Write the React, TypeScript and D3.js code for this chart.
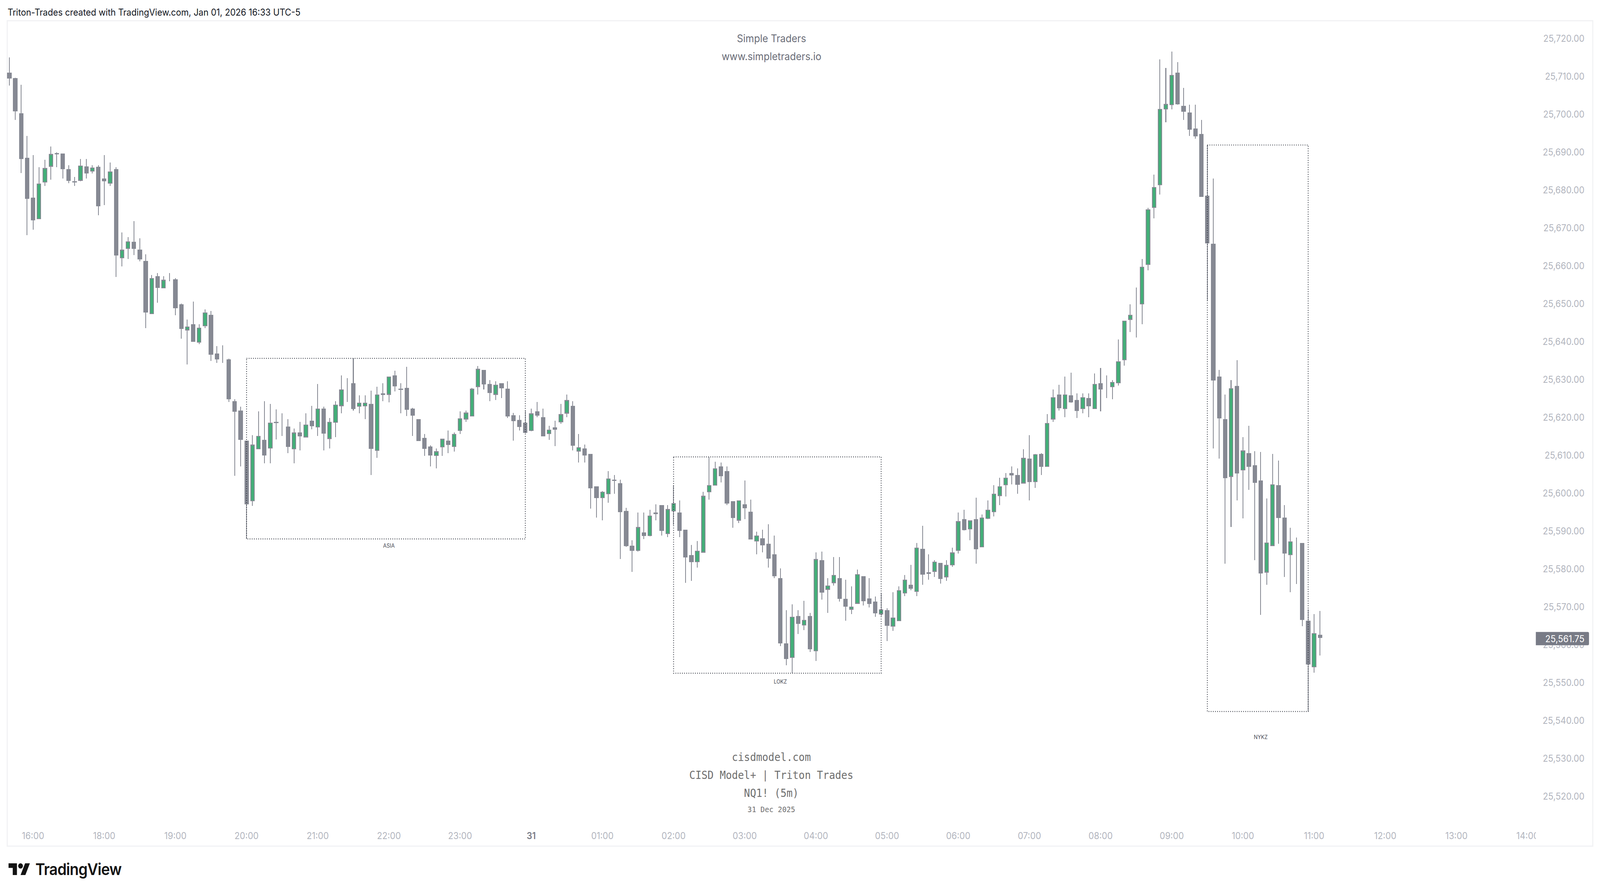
import React from 'react'
import * as d3 from 'd3'

// NQ1! 5m bars, first bar 15:40 on 30 Dec, last bar 11:05 on 31 Dec
const opens = [
  25710.9, 25709.45, 25700.2, 25688.4, 25677.85, 25672.2, 25681.9, 25686.1, 25689.65, 25689.5,
  25685.4, 25682.2, 25682.4, 25686.1, 25684.85, 25686, 25682.95, 25681.65, 25685.45, 25661.9,
  25664.4, 25666.25, 25664.2, 25661.15, 25647.15, 25657.15, 25653.95, 25656.75, 25656.4, 25649.75,
  25642.9, 25644.5, 25639.7, 25643.95, 25647, 25636.8, 25635.55, 25635.2, 25624.2, 25621.7,
  25613.8, 25597.8, 25611.5, 25614, 25611.7, 25618.7, 25617.8, 25617.45, 25611.5, 25615.95,
  25614.65, 25619.05, 25617.25, 25622.2, 25614.25, 25618.5, 25622.9, 25628.85, 25628.95, 25622.75,
  25622.85, 25623.5, 25611.1, 25626.25, 25625.9, 25631, 25627.5, 25627.7, 25622.25, 25619.45,
  25614.5, 25612.2, 25609.75, 25612, 25613.8, 25612.15, 25616.4, 25619.4, 25620.2, 25627.95,
  25632.45, 25628.75, 25625.9, 25628.95, 25627.5, 25620.45, 25619.25, 25618.55, 25616.4, 25621.5,
  25619.95, 25615.5, 25617.25, 25618.65, 25620.95, 25622.95, 25610.95, 25611.7, 25610.25, 25601.7,
  25598.65, 25599.7, 25603.5, 25602.55, 25595.25, 25586, 25584.75, 25589.55, 25588.65, 25594.8,
  25596.75, 25589.15, 25595.15, 25594.8, 25590.3, 25583.55, 25581.75, 25584.25, 25600.2, 25601.95,
  25606.95, 25605.75, 25597.8, 25592.7, 25597, 25595.05, 25587.2, 25588, 25586.6, 25583.8,
  25577.45, 25560.25, 25556.5, 25567.5, 25565, 25567.5, 25558.2, 25582.25, 25574.45, 25576.2,
  25577.45, 25572, 25569.2, 25570.75, 25578, 25572.15, 25571.3, 25567.95, 25569.05, 25564.7,
  25566.15, 25573.45, 25575.75, 25573.9, 25585.2, 25579.05, 25579.2, 25581.5, 25577.75, 25580.9,
  25584.75, 25593, 25590.4, 25593, 25585.65, 25593.2, 25594.95, 25599.2, 25602, 25605.2,
  25604.7, 25602.5, 25609, 25602.85, 25610.25, 25606.9, 25619.4, 25625.95, 25622.15, 25625.7,
  25624.5, 25622.15, 25625, 25622.15, 25628.9, 25628.1, 25627.9, 25628.95, 25635, 25645.7,
  25648.85, 25649.75, 25660.2, 25675.2, 25681.2, 25701.2, 25702.35, 25710.9, 25702.15, 25700.35,
  25696.15, 25694.7, 25678.4, 25665.75, 25630.7, 25619.45, 25604.25, 25628.2, 25605.95, 25610.45,
  25607.3, 25603.3, 25579, 25586, 25602, 25593.5, 25583.55, 25587.4, 25586.8, 25566.2, 25554, 25562.55
]

const closes = [
  25709.35, 25700.65, 25688.15, 25677.6, 25671.9, 25681.65, 25685.7, 25689.4, 25689.4, 25685.4,
  25682.4, 25681.9, 25686.4, 25684.35, 25685.85, 25675.65, 25682.2, 25684.85, 25662.7, 25664.15,
  25666.4, 25664.4, 25661.6, 25647.6, 25656.65, 25654.15, 25656.2, 25656.55, 25648.7, 25643.25,
  25643.9, 25639.9, 25643.6, 25647.6, 25636.45, 25635.2, 25635.35, 25624.7, 25621.45, 25613.95,
  25596.95, 25612.7, 25615, 25609.9, 25618.5, 25618.45, 25617.6, 25612.15, 25615.9, 25614.95,
  25618, 25617.6, 25622.2, 25615.65, 25618.7, 25623.25, 25627.25, 25628.65, 25622.1, 25623.75,
  25623.75, 25611.65, 25625.95, 25625.9, 25630.7, 25628.15, 25627.2, 25621.95, 25620.4, 25613.7,
  25611.65, 25609.9, 25610.95, 25614.25, 25612.7, 25615.5, 25619.7, 25621.15, 25627.45, 25632.7,
  25628.65, 25626.4, 25628.5, 25627.6, 25620.2, 25618.95, 25617.45, 25615.85, 25620.95, 25620.4,
  25614.95, 25616.7, 25616.7, 25620.75, 25624.45, 25612.45, 25612, 25609.9, 25601.25, 25598.65,
  25600.25, 25603.75, 25603.15, 25594.95, 25586, 25584.75, 25590.95, 25588.65, 25594, 25594.4,
  25590, 25595.7, 25597.25, 25590, 25583, 25581.75, 25584.75, 25599.2, 25602, 25606.45,
  25604.45, 25597.2, 25593.4, 25598, 25595.95, 25587.75, 25588.7, 25586.2, 25582.7, 25578,
  25560.25, 25556.2, 25567.25, 25565.45, 25566.5, 25558.7, 25582.5, 25573.7, 25575.5, 25578.3,
  25572, 25570, 25570, 25578.5, 25571.4, 25570.75, 25568.2, 25569.2, 25564.9, 25567.1,
  25574.3, 25577.1, 25574.7, 25585.55, 25578.4, 25578.65, 25581.8, 25577.25, 25580.95, 25584.25,
  25592.5, 25590.2, 25592.7, 25585.15, 25593.45, 25595.5, 25599.75, 25601.7, 25604, 25604.6,
  25602.1, 25609.2, 25602.85, 25610.2, 25606.9, 25618.45, 25625.2, 25622.35, 25625.95, 25623.9,
  25621.65, 25625.2, 25622.85, 25628.75, 25627.25, 25627.9, 25629.25, 25634.75, 25645.45, 25647,
  25648.7, 25659.7, 25674.85, 25680.65, 25701.35, 25702.6, 25710.3, 25702.55, 25700.6, 25695.85,
  25694.15, 25678.15, 25665.9, 25629.7, 25619.7, 25603.9, 25627.6, 25605.1, 25611.15, 25606.85,
  25602.65, 25578.7, 25586.9, 25602.2, 25593.35, 25584, 25587.2, 25587.2, 25566.5, 25554.75, 25562.95, 25561.75
]

const highs = [
  25714.9, 25709.6, 25707.65, 25694.2, 25689.1, 25686, 25687.9, 25691.4, 25689.9, 25689.5,
  25686.45, 25683.4, 25688.15, 25688.15, 25686.45, 25686.45, 25689.1, 25687.15, 25686, 25668.75,
  25667.5, 25671.7, 25667.15, 25662.95, 25657.5, 25658, 25657.15, 25658, 25656.65, 25649.95,
  25645.75, 25650.45, 25644.5, 25648.4, 25648, 25638.7, 25638.9, 25635.4, 25624.75, 25622.75,
  25613.8, 25615.2, 25621.55, 25624.2, 25623.5, 25622.05, 25621, 25619.45, 25617, 25618.7,
  25621, 25622.95, 25628.75, 25622.75, 25619.75, 25624.2, 25631, 25630.25, 25635.5, 25625.75,
  25625.75, 25627, 25628, 25628.95, 25630.7, 25632.25, 25628.95, 25633.3, 25622.45, 25619.45,
  25615.55, 25612.55, 25611.75, 25614.3, 25616.45, 25615.95, 25621.55, 25621.7, 25627.7, 25633.45,
  25632.45, 25629.75, 25629.45, 25628.95, 25629.45, 25621.15, 25620.5, 25621.7, 25622.2, 25624,
  25622.2, 25617.7, 25619, 25623.45, 25625.95, 25624.2, 25615.55, 25612.75, 25610.25, 25601.7,
  25600.5, 25605.75, 25604.75, 25603.5, 25596.05, 25587.5, 25594.8, 25594.8, 25595.55, 25597,
  25596.75, 25596.75, 25602, 25598, 25590.3, 25586.25, 25587.3, 25600.3, 25609.45, 25608.2,
  25608, 25607, 25597.8, 25598, 25603.25, 25598.25, 25589.8, 25590.3, 25591.75, 25588.75,
  25580.1, 25569, 25570.55, 25569, 25571.5, 25568.3, 25584.25, 25584.5, 25577.45, 25583.05,
  25583.05, 25577.05, 25575.3, 25579.75, 25578, 25577.45, 25572.7, 25573.6, 25569.55, 25573.8,
  25575.35, 25578.3, 25581, 25586.8, 25591.3, 25583.75, 25582.2, 25581.5, 25582.2, 25585.5,
  25594.8, 25595.5, 25592.7, 25598.7, 25594.3, 25598, 25602, 25604, 25605.2, 25607,
  25606.45, 25611.5, 25615.2, 25610.25, 25610.45, 25620.8, 25627.25, 25628.5, 25630.7, 25631.7,
  25626.25, 25626.25, 25626.25, 25631.5, 25633, 25631, 25629.8, 25640.45, 25645.45, 25649.75,
  25654.2, 25661.7, 25675.2, 25684, 25714.4, 25712.15, 25716.45, 25713.7, 25706.85, 25702.45,
  25702.45, 25698.4, 25691.8, 25683, 25632.45, 25625.95, 25629.75, 25635, 25614.7, 25617.7,
  25611, 25610.8, 25598.5, 25610.25, 25608.55, 25596.75, 25590.8, 25588.2, 25586.8, 25569.25, 25568, 25568.85
]

const lows = [
  25707.45, 25698.45, 25684.45, 25668, 25669.45, 25672.2, 25681, 25682.65, 25686, 25683,
  25681.75, 25681, 25682.25, 25683, 25684.35, 25673.25, 25676, 25681, 25657, 25659.8,
  25661.75, 25662.8, 25661.15, 25643.5, 25647.15, 25650.2, 25653.95, 25655.8, 25646.85, 25640.7,
  25633.85, 25639.9, 25639.25, 25643.5, 25634.8, 25634.25, 25634.25, 25624, 25604.55, 25606.95,
  25587.85, 25596.6, 25611.5, 25607.8, 25607.8, 25614.05, 25615, 25610.5, 25607.8, 25611.25,
  25614.6, 25616.8, 25615, 25611.25, 25611.75, 25614.75, 25621, 25624, 25621.7, 25621,
  25619.45, 25604.75, 25609.25, 25624.2, 25623.85, 25626.8, 25621, 25620.3, 25615, 25613.7,
  25609.8, 25607, 25606.45, 25609.8, 25610.5, 25610.85, 25615.5, 25618.75, 25620.2, 25626,
  25627.3, 25624.2, 25624.55, 25625, 25619.75, 25613.8, 25616.5, 25615.75, 25616.25, 25620,
  25614.9, 25614, 25612.3, 25618.25, 25620, 25611.2, 25608, 25608, 25595.8, 25593.45,
  25592.75, 25597.35, 25599.75, 25582.55, 25585.75, 25579.1, 25584.55, 25587.8, 25588.55, 25592.75,
  25588.75, 25588.35, 25591.55, 25588.35, 25576.25, 25576.8, 25580.25, 25584.25, 25598.25, 25601.95,
  25602.75, 25596.75, 25590.8, 25592.05, 25593.1, 25587.75, 25583.8, 25584.35, 25580.25, 25577.5,
  25559.6, 25554.55, 25552.4, 25562.8, 25563.8, 25558, 25555.6, 25571.85, 25568.3, 25575.5,
  25571.3, 25566.25, 25568, 25570.75, 25570.25, 25569.75, 25567.3, 25567.5, 25560.85, 25563.6,
  25566.15, 25572.75, 25574.3, 25572.75, 25575.75, 25577.1, 25577.8, 25576.1, 25576.8, 25580.45,
  25584, 25590.1, 25587.5, 25581.3, 25585.65, 25593.1, 25593.75, 25596.8, 25599, 25602.2,
  25599.75, 25602.5, 25598, 25601.3, 25604.7, 25606.9, 25618.75, 25621.7, 25620, 25623.8,
  25619.75, 25621, 25620, 25622.15, 25621.55, 25625, 25624.7, 25628.35, 25633.55, 25642.4,
  25641.05, 25644.5, 25658.75, 25672.45, 25678.75, 25697.85, 25701.2, 25702.45, 25698.4, 25694.2,
  25693.5, 25678.15, 25650.7, 25611.7, 25609, 25581.3, 25591, 25598, 25593.3, 25600.8,
  25582.25, 25567.8, 25575.75, 25586, 25586.6, 25577.8, 25573.75, 25576, 25564.85, 25542.3, 25552.55, 25557.1
]

const priceTicks = d3.range(25520, 25721, 10)
const lastPrice = 25561.75

const timeLabels = ['16:00', '18:00', '19:00', '20:00', '21:00', '22:00', '23:00', '31', '01:00', '02:00', '03:00', '04:00', '05:00', '06:00', '07:00', '08:00', '09:00', '10:00', '11:00', '12:00', '13:00', '14:00']
const timeBars = [4, 16, 28, 40, 52, 64, 76, 88, 100, 112, 124, 136, 148, 160, 172, 184, 196, 208, 220, 232, 244, 256]

const sessionNames = ['ASIA', 'LOKZ', 'NYKZ']
const sessionStart = [40, 112, 202]
const sessionEnd = [87, 147, 219]
const sessionHigh = [25635.5, 25609.5, 25691.8]
const sessionLow = [25587.85, 25552.4, 25542.3]
const sessionLabelY = [1397, 1745, 1887]

const GRAY = '#868993'
const GREEN = '#43ae78'
const SANS = 'Inter, sans-serif'
const MONO = '"DejaVu Sans Mono", monospace'

const x = d3.scaleLinear().domain([0, 221]).range([25.9, 3661.4])
const y = d3.scaleLinear().domain([25520, 25720]).range([2037.7, 97.7])
const formatPrice = d3.format(',.2f')

const App: React.FC = () => {
  return (
    <svg
      viewBox="0 0 4438 2286"
      preserveAspectRatio="none"
      style={{ position: 'fixed', top: 0, left: 0, width: '100vw', height: '100vh', display: 'block', background: '#fff' }}
    >
      <defs>
        <clipPath id="pane">
          <rect x={21} y={54} width={4239} height={2111} />
        </clipPath>
      </defs>

      <text x={21} y={40} fontFamily={SANS} fontSize={24} fill="#131722">
        Triton-Trades created with TradingView.com, Jan 01, 2026 16:33 UTC-5
      </text>
      <rect x={20} y={53} width={4398} height={2113} fill="none" stroke="#f1f2f4" strokeWidth={3} />

      {/* watermark */}
      <g textAnchor="middle" fill="#6a6d78" fontFamily={SANS}>
        <text x={2140} y={108} fontSize={27}>Simple Traders</text>
        <text x={2140} y={154} fontSize={27}>www.simpletraders.io</text>
      </g>
      <g textAnchor="middle" fill="#6e6e6e" fontFamily={MONO}>
        <text x={2139.5} y={1948} fontSize={28}>cisdmodel.com</text>
        <text x={2139.5} y={1994} fontSize={28}>CISD Model+ | Triton Trades</text>
        <text x={2139.5} y={2040} fontSize={28}>NQ1! (5m)</text>
        <text x={2139.5} y={2079} fontSize={20}>31 Dec 2025</text>
      </g>

      {/* candles */}
      <g shapeRendering="crispEdges">
        {opens.map((open, i) => {
          const up = closes[i] > open
          const top = y(Math.max(open, closes[i]))
          const bottom = y(Math.min(open, closes[i]))
          return (
            <g key={i}>
              <line x1={x(i)} x2={x(i)} y1={y(highs[i])} y2={y(lows[i])} stroke={GRAY} strokeWidth={2.2} />
              <rect
                x={x(i) - 5}
                y={top + 1}
                width={10}
                height={Math.max(0, bottom - top - 2)}
                fill={up ? GREEN : GRAY}
                stroke={GRAY}
                strokeWidth={2.2}
              />
            </g>
          )
        })}
      </g>

      {/* session boxes */}
      {sessionNames.map((name, i) => (
        <g key={name}>
          <rect
            x={x(sessionStart[i])}
            y={y(sessionHigh[i])}
            width={x(sessionEnd[i]) - x(sessionStart[i])}
            height={y(sessionLow[i]) - y(sessionHigh[i])}
            fill="none"
            stroke="#2a2e39"
            strokeWidth={2.2}
            strokeDasharray="2 4"
          />
          <text
            x={x(Math.ceil((sessionStart[i] + sessionEnd[i]) / 2))}
            y={sessionLabelY[i] + 5}
            textAnchor="middle"
            fontFamily={SANS}
            fontSize={14}
            fill="#4a4d57"
          >
            {name}
          </text>
        </g>
      ))}

      {/* price axis */}
      <g fontFamily={SANS} fontSize={24} fill="#b2b5be" textAnchor="end">
        {priceTicks.map((p) => (
          <text key={p} x={4395} y={y(p) + 9}>
            {formatPrice(p)}
          </text>
        ))}
      </g>
      <path
        d={`M4260 ${y(lastPrice) - 15}h144a3.5 3.5 0 0 1 3.5 3.5v27a3.5 3.5 0 0 1 -3.5 3.5h-144z`}
        fill="#787b86"
      />
      <text x={4395} y={y(lastPrice) + 11} fontFamily={SANS} fontSize={24} fill="#fff" textAnchor="end">
        {formatPrice(lastPrice)}
      </text>

      {/* time axis */}
      <g fontFamily={SANS} fontSize={24} textAnchor="middle" clipPath="url(#pane)">
        {timeLabels.map((label, i) => (
          <text
            key={label}
            x={x(timeBars[i])}
            y={2148}
            fill={label === '31' ? '#787b86' : '#b2b5be'}
            fontWeight={label === '31' ? 600 : 400}
          >
            {label}
          </text>
        ))}
      </g>

      {/* logo */}
      <g fill="#131313">
        <path
          transform="translate(23.7 2203.3) scale(1.667)"
          d="M14 22H7V11H0V4h14v18zM28 22h-8l7.5-18h8L28 22z"
        />
        <circle cx={57} cy={2216.7} r={6.7} />
        <text x={98} y={2240} fontFamily={SANS} fontSize={41} fontWeight={600} letterSpacing={-1}>
          TradingView
        </text>
      </g>
    </svg>
  )
}

export default App
